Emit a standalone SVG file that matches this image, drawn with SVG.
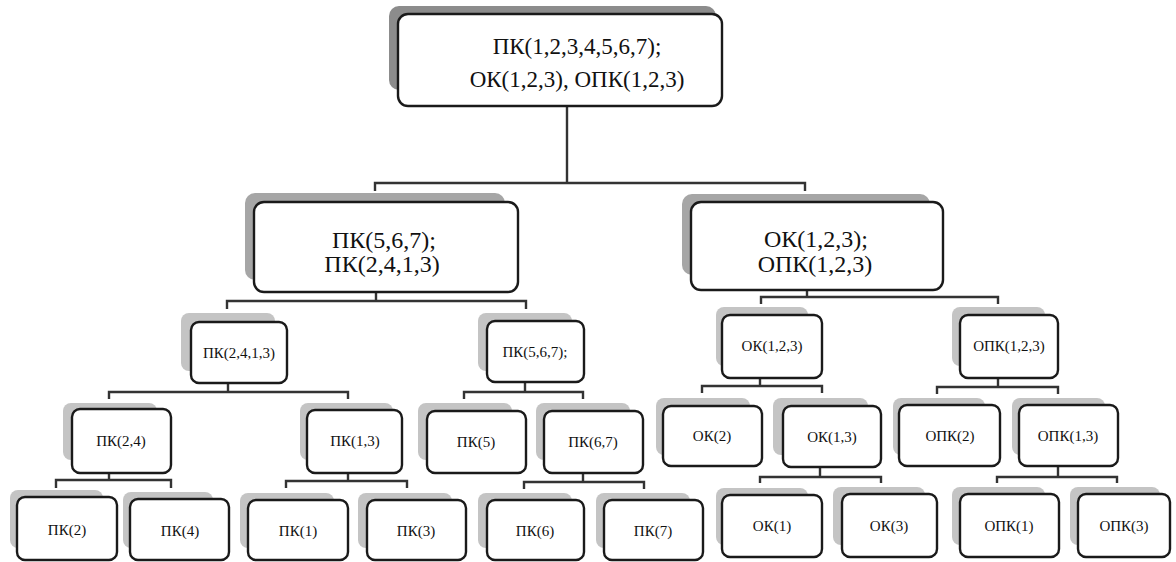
<svg xmlns="http://www.w3.org/2000/svg" width="1176" height="562" viewBox="0 0 1176 562">
<style>
.bx{fill:#fff;stroke:#1a1a1a;stroke-width:2.4}
.s1{fill:#8c8c8c}
.s2{fill:#a6a6a6}
.s3{fill:#c4c4c4}
.t{font-family:"Liberation Serif","Times New Roman",serif;fill:#111;text-anchor:middle}
.tl{font-size:23px}
.tm{font-size:24px}
.ts{font-size:15px}
.cn{fill:none;stroke:#333;stroke-width:2.4}
</style>
<rect width="1176" height="562" fill="#fff"/>
<g id="connectors">
<path class="cn" d="M567 106V183M375 191V183H805V191"/>
<path class="cn" d="M376 292V301M227 309V301H526V309"/>
<path class="cn" d="M807 290V297M761 304V297H998V304"/>
<path class="cn" d="M228 383V392M109 399V392H348V399"/>
<path class="cn" d="M525 382V392M464 399V392H583V399"/>
<path class="cn" d="M760 378V386M702 393V386H822V393"/>
<path class="cn" d="M998 378V387M937 394V387H1058V394"/>
<path class="cn" d="M109 473V480M56 488V480H171V488"/>
<path class="cn" d="M348 473V481M286 488V481H407V488"/>
<path class="cn" d="M583 473V482M524 489V482H644V489"/>
<path class="cn" d="M820 467V477M760 483V477H881V483"/>
<path class="cn" d="M1058 466V477M997 483V477H1117V483"/>
</g>
<g id="n-root">
<rect class="s1" x="389" y="6" width="327" height="84" rx="10"/>
<rect class="bx" x="398" y="14" width="324" height="92" rx="10"/>
<text class="t tl" x="577" y="54">ПК(1,2,3,4,5,6,7);</text>
<text class="t tl" x="577" y="87">ОК(1,2,3), ОПК(1,2,3)</text>
</g>
<g id="n-pk">
<rect class="s2" x="245" y="193" width="260" height="87" rx="10"/>
<rect class="bx" x="254" y="202" width="264" height="90" rx="10"/>
<text class="t tm" x="384" y="248">ПК(5,6,7);</text>
<text class="t tm" x="382" y="272">ПК(2,4,1,3)</text>
</g>
<g id="n-ok-opk">
<rect class="s2" x="682" y="194" width="248" height="81" rx="10"/>
<rect class="bx" x="691" y="202" width="252" height="88" rx="10"/>
<text class="t tm" x="816" y="247">ОК(1,2,3);</text>
<text class="t tm" x="815" y="272">ОПК(1,2,3)</text>
</g>
<g id="n-pk2413">
<rect class="s3" x="181" y="313" width="94" height="58" rx="8"/>
<rect class="bx" x="191" y="322" width="96" height="61" rx="8"/>
<text class="t ts" x="239" y="358">ПК(2,4,1,3)</text>
</g>
<g id="n-pk567">
<rect class="s3" x="478" y="313" width="94" height="58" rx="8"/>
<rect class="bx" x="487" y="321" width="97" height="61" rx="8"/>
<text class="t ts" x="535" y="357">ПК(5,6,7);</text>
</g>
<g id="n-ok123">
<rect class="s3" x="716" y="307" width="92" height="59" rx="8"/>
<rect class="bx" x="722" y="315" width="100" height="63" rx="8"/>
<text class="t ts" x="772" y="351">ОК(1,2,3)</text>
</g>
<g id="n-opk123">
<rect class="s3" x="952" y="307" width="93" height="59" rx="8"/>
<rect class="bx" x="960" y="315" width="98" height="63" rx="8"/>
<text class="t ts" x="1009" y="351">ОПК(1,2,3)</text>
</g>
<g id="n-pk24">
<rect class="s3" x="63" y="403" width="94" height="57" rx="8"/>
<rect class="bx" x="72" y="409" width="99" height="64" rx="8"/>
<text class="t ts" x="121" y="446">ПК(2,4)</text>
</g>
<g id="n-pk13">
<rect class="s3" x="300" y="403" width="93" height="57" rx="8"/>
<rect class="bx" x="307" y="410" width="95" height="63" rx="8"/>
<text class="t ts" x="355" y="446">ПК(1,3)</text>
</g>
<g id="n-pk5">
<rect class="s3" x="418" y="403" width="94" height="57" rx="8"/>
<rect class="bx" x="427" y="411" width="99" height="62" rx="8"/>
<text class="t ts" x="476" y="447">ПК(5)</text>
</g>
<g id="n-pk67">
<rect class="s3" x="536" y="403" width="94" height="57" rx="8"/>
<rect class="bx" x="544" y="411" width="99" height="62" rx="8"/>
<text class="t ts" x="593" y="447">ПК(6,7)</text>
</g>
<g id="n-ok2">
<rect class="s3" x="656" y="398" width="94" height="57" rx="8"/>
<rect class="bx" x="663" y="406" width="99" height="60" rx="8"/>
<text class="t ts" x="712" y="441">ОК(2)</text>
</g>
<g id="n-ok13">
<rect class="s3" x="773" y="398" width="95" height="57" rx="8"/>
<rect class="bx" x="783" y="406" width="98" height="61" rx="8"/>
<text class="t ts" x="832" y="442">ОК(1,3)</text>
</g>
<g id="n-opk2">
<rect class="s3" x="893" y="398" width="92" height="57" rx="8"/>
<rect class="bx" x="899" y="405" width="101" height="61" rx="8"/>
<text class="t ts" x="950" y="441">ОПК(2)</text>
</g>
<g id="n-opk13">
<rect class="s3" x="1012" y="398" width="93" height="57" rx="8"/>
<rect class="bx" x="1019" y="405" width="99" height="61" rx="8"/>
<text class="t ts" x="1068" y="441">ОПК(1,3)</text>
</g>
<g id="n-pk2">
<rect class="s3" x="10" y="490" width="93" height="58" rx="8"/>
<rect class="bx" x="17" y="497" width="100" height="63" rx="8"/>
<text class="t ts" x="67" y="535">ПК(2)</text>
</g>
<g id="n-pk4">
<rect class="s3" x="123" y="492" width="90" height="56" rx="8"/>
<rect class="bx" x="130" y="499" width="99" height="61" rx="8"/>
<text class="t ts" x="180" y="536">ПК(4)</text>
</g>
<g id="n-pk1">
<rect class="s3" x="240" y="493" width="94" height="55" rx="8"/>
<rect class="bx" x="248" y="500" width="100" height="60" rx="8"/>
<text class="t ts" x="298" y="536">ПК(1)</text>
</g>
<g id="n-pk3">
<rect class="s3" x="358" y="493" width="94" height="55" rx="8"/>
<rect class="bx" x="367" y="500" width="99" height="60" rx="8"/>
<text class="t ts" x="416" y="536">ПК(3)</text>
</g>
<g id="n-pk6">
<rect class="s3" x="478" y="493" width="94" height="55" rx="8"/>
<rect class="bx" x="487" y="500" width="97" height="60" rx="8"/>
<text class="t ts" x="535" y="536">ПК(6)</text>
</g>
<g id="n-pk7">
<rect class="s3" x="596" y="493" width="94" height="55" rx="8"/>
<rect class="bx" x="604" y="500" width="99" height="60" rx="8"/>
<text class="t ts" x="653" y="536">ПК(7)</text>
</g>
<g id="n-ok1">
<rect class="s3" x="716" y="488" width="92" height="57" rx="8"/>
<rect class="bx" x="722" y="495" width="100" height="62" rx="8"/>
<text class="t ts" x="772" y="531">ОК(1)</text>
</g>
<g id="n-ok3">
<rect class="s3" x="833" y="487" width="92" height="58" rx="8"/>
<rect class="bx" x="842" y="494" width="95" height="63" rx="8"/>
<text class="t ts" x="889" y="531">ОК(3)</text>
</g>
<g id="n-opk1">
<rect class="s3" x="952" y="487" width="93" height="58" rx="8"/>
<rect class="bx" x="960" y="494" width="99" height="63" rx="8"/>
<text class="t ts" x="1009" y="531">ОПК(1)</text>
</g>
<g id="n-opk3">
<rect class="s3" x="1070" y="487" width="90" height="58" rx="8"/>
<rect class="bx" x="1078" y="494" width="92" height="63" rx="8"/>
<text class="t ts" x="1124" y="531">ОПК(3)</text>
</g>
</svg>
